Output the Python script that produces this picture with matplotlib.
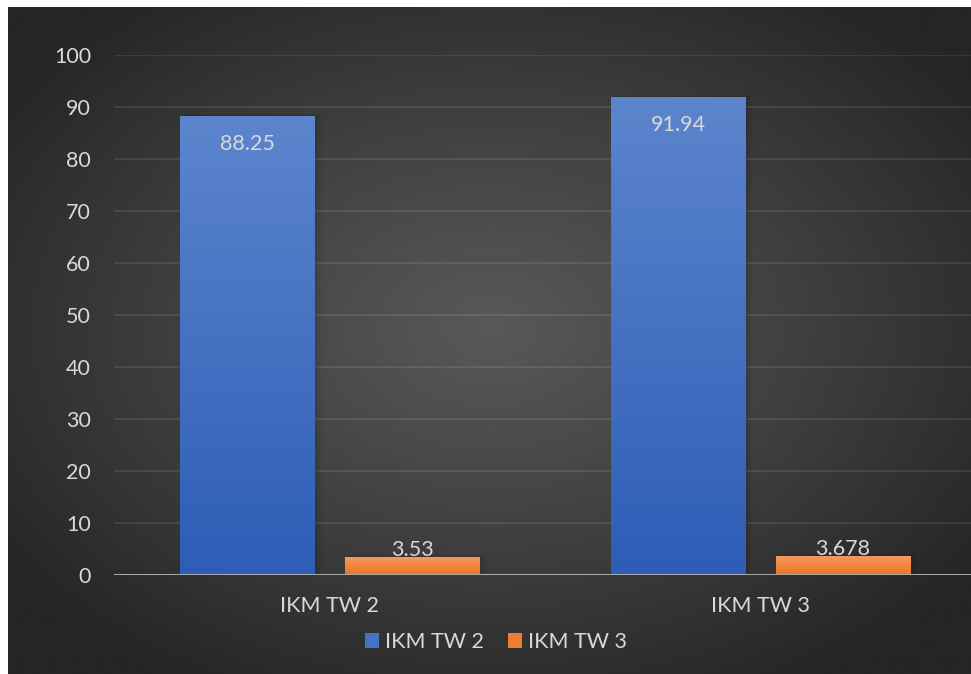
import numpy as np
import matplotlib
matplotlib.use("Agg")
import matplotlib.pyplot as plt
from matplotlib.colors import LinearSegmentedColormap
from matplotlib.patches import Rectangle, Patch

# ---- data ----
categories = ["IKM TW 2", "IKM TW 3"]
series_names = ["IKM TW 2", "IKM TW 3"]
tw2_values = [88.25, 91.94]
tw3_values = [3.53, 3.678]
tw3_labels = ["3.53", "3.678"]
tw2_labels = ["88.25", "91.94"]
y_ticks = [0, 10, 20, 30, 40, 50, 60, 70, 80, 90, 100]

W, H = 971, 674
DPI = 100
plt.rcParams["font.family"] = ["Lato", "DejaVu Sans"]
TXT = "#d9d9d9"
FS = 15.5

fig = plt.figure(figsize=(W / DPI, H / DPI), dpi=DPI, facecolor="white")

# ---- dark radial-gradient panel ----
bg = fig.add_axes([8 / W, 0, 1 - 8 / W, (H - 7) / H])
bg.set_axis_off()
ny, nx = 400, 600
yy, xx = np.mgrid[0:ny, 0:nx]
cx, cy = 0.50 * nx, 0.48 * ny
r = np.sqrt(((xx - cx) / (0.62 * nx)) ** 2 + ((yy - cy) / (0.62 * ny)) ** 2)
r = np.clip(r, 0, 1)
c_in = np.array([0x58, 0x58, 0x58]) / 255
c_out = np.array([0x25, 0x25, 0x25]) / 255
t = r[..., None] ** 1.1
img = c_in * (1 - t) + c_out * t
bg.imshow(img, aspect="auto", extent=[0, 1, 0, 1], origin="upper")
bg.set_xlim(0, 1)
bg.set_ylim(0, 1)

# ---- plot axes ----
ax = fig.add_axes([114 / W, 99 / H, 862 / W, 520 / H])
ax.patch.set_alpha(0)
ax.set_xlim(-0.5, 1.5)
ax.set_ylim(0, 100)
for s in ax.spines.values():
    s.set_visible(False)

for v in y_ticks[1:]:
    ax.axhline(v, color="white", alpha=0.09, lw=1.5, zorder=1)
ax.axhline(0, color="#a8a8a8", lw=2.2, zorder=4)

ax.set_yticks(y_ticks)
ax.set_yticklabels([str(v) for v in y_ticks])
x = np.arange(len(categories))
ax.set_xticks(x)
ax.set_xticklabels(categories)
ax.tick_params(axis="both", length=0, colors=TXT, labelsize=FS)
ax.tick_params(axis="y", pad=16.5)
ax.tick_params(axis="x", pad=15)

width = 0.311
offset = 0.1915

blue_cmap = LinearSegmentedColormap.from_list("b", ["#2d5db6", "#5c85cd"])
orange_cmap = LinearSegmentedColormap.from_list("o", ["#ee7420", "#f59b60"])


def gradient_bars(xpos, vals, cmap):
    bars = ax.bar(xpos, vals, width, color="none", zorder=3)
    for b in bars:
        x0, y0 = b.get_x(), b.get_y()
        w, h = b.get_width(), b.get_height()
        # soft drop shadow, mostly to the right
        for k, a in enumerate([0.06, 0.04, 0.025]):
            d = 0.0035 * (k + 1)
            ax.add_patch(Rectangle((x0 + d, y0), w + d, h + d * 40,
                                   facecolor="black", edgecolor="none",
                                   alpha=a, zorder=2))
        grad = np.linspace(0, 1, 256).reshape(-1, 1)
        im = ax.imshow(grad, cmap=cmap, aspect="auto", origin="lower",
                       extent=[x0, x0 + w, y0, y0 + h], zorder=3)
        im.set_clip_path(b)
    return bars


gradient_bars(x - offset, tw2_values, blue_cmap)
gradient_bars(x + offset, tw3_values, orange_cmap)
ax.set_xlim(-0.5, 1.5)
ax.set_ylim(0, 100)

for xi, v, lab in zip(x - offset, tw2_values, tw2_labels):
    ax.annotate(lab, (xi, v), xytext=(0, -28 * 0.72), textcoords="offset points",
                ha="center", va="center", color=TXT, fontsize=FS, zorder=6)
for xi, v, lab in zip(x + offset, tw3_values, tw3_labels):
    ax.annotate(lab, (xi, v), xytext=(0, 7 * 0.72), textcoords="offset points",
                ha="center", va="center", color=TXT, fontsize=FS, zorder=6)

handles = [Patch(facecolor="#4472c4", edgecolor="none"),
           Patch(facecolor="#ed7d31", edgecolor="none")]
fig.legend(handles, series_names, loc="center", ncol=2,
           bbox_to_anchor=(496 / W, 32 / H), frameon=False,
           fontsize=FS, labelcolor=TXT, handlelength=0.65, handleheight=0.65,
           handletextpad=0.3, columnspacing=1.1)

fig.savefig("out.png", dpi=DPI, facecolor="white")
